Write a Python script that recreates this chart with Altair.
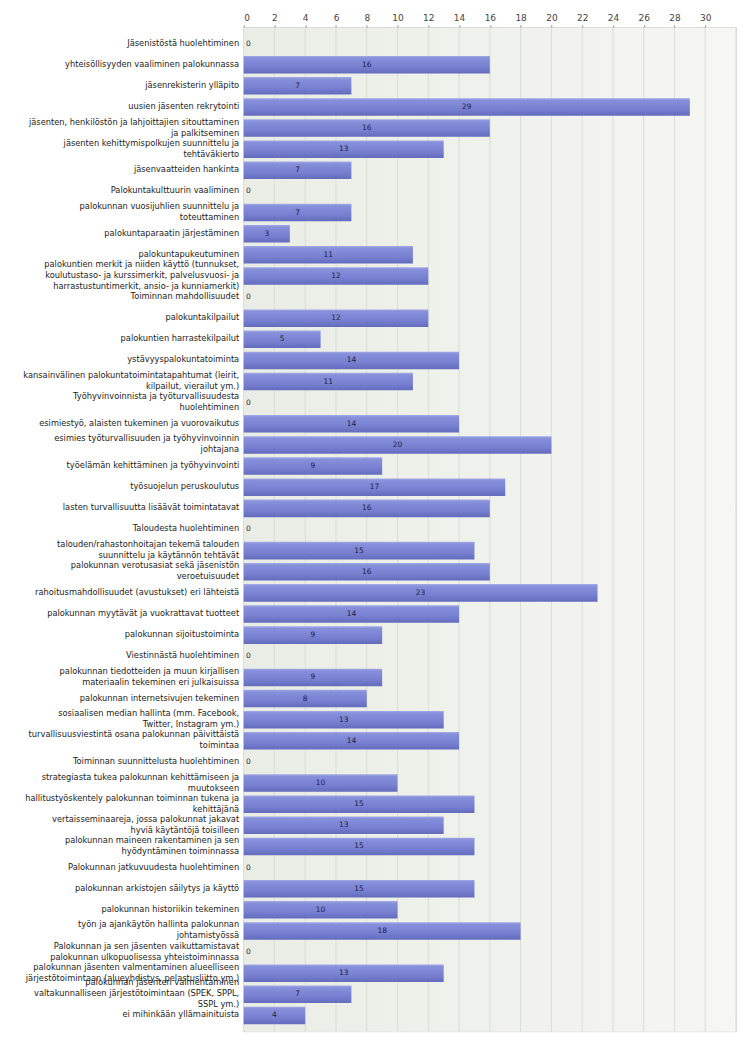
import altair as alt
import pandas as pd

categories = [
    "Jäsenistöstä huolehtiminen",
    "yhteisöllisyyden vaaliminen palokunnassa",
    "jäsenrekisterin ylläpito",
    "uusien jäsenten rekrytointi",
    "jäsenten, henkilöstön ja lahjoittajien sitouttaminen|ja palkitseminen",
    "jäsenten kehittymispolkujen suunnittelu ja|tehtäväkierto",
    "jäsenvaatteiden hankinta",
    "Palokuntakulttuurin vaaliminen",
    "palokunnan vuosijuhlien suunnittelu ja|toteuttaminen",
    "palokuntaparaatin järjestäminen",
    "palokuntapukeutuminen",
    "palokuntien merkit ja niiden käyttö (tunnukset,|koulutustaso- ja kurssimerkit, palvelusvuosi- ja|harrastustuntimerkit, ansio- ja kunniamerkit)",
    "Toiminnan mahdollisuudet",
    "palokuntakilpailut",
    "palokuntien harrastekilpailut",
    "ystävyyspalokuntatoiminta",
    "kansainvälinen palokuntatoimintatapahtumat (leirit,|kilpailut, vierailut ym.)",
    "Työhyvinvoinnista ja työturvallisuudesta|huolehtiminen",
    "esimiestyö, alaisten tukeminen ja vuorovaikutus",
    "esimies työturvallisuuden ja työhyvinvoinnin|johtajana",
    "työelämän kehittäminen ja työhyvinvointi",
    "työsuojelun peruskoulutus",
    "lasten turvallisuutta lisäävät toimintatavat",
    "Taloudesta huolehtiminen",
    "talouden/rahastonhoitajan tekemä talouden|suunnittelu ja käytännön tehtävät",
    "palokunnan verotusasiat sekä jäsenistön|veroetuisuudet",
    "rahoitusmahdollisuudet (avustukset) eri lähteistä",
    "palokunnan myytävät ja vuokrattavat tuotteet",
    "palokunnan sijoitustoiminta",
    "Viestinnästä huolehtiminen",
    "palokunnan tiedotteiden ja muun kirjallisen|materiaalin tekeminen eri julkaisuissa",
    "palokunnan internetsivujen tekeminen",
    "sosiaalisen median hallinta (mm. Facebook,|Twitter, Instagram ym.)",
    "turvallisuusviestintä osana palokunnan päivittäistä|toimintaa",
    "Toiminnan suunnittelusta huolehtiminen",
    "strategiasta tukea palokunnan kehittämiseen ja|muutokseen",
    "hallitustyöskentely palokunnan toiminnan tukena ja|kehittäjänä",
    "vertaisseminaareja, jossa palokunnat jakavat|hyviä käytäntöjä toisilleen",
    "palokunnan maineen rakentaminen ja sen|hyödyntäminen toiminnassa",
    "Palokunnan jatkuvuudesta huolehtiminen",
    "palokunnan arkistojen säilytys ja käyttö",
    "palokunnan historiikin tekeminen",
    "työn ja ajankäytön hallinta palokunnan|johtamistyössä",
    "Palokunnan ja sen jäsenten vaikuttamistavat|palokunnan ulkopuolisessa yhteistoiminnassa",
    "palokunnan jäsenten valmentaminen alueelliseen|järjestötoimintaan (alueyhdistys, pelastusliitto ym.)",
    "palokunnan jäsenten valmentaminen|valtakunnalliseen järjestötoimintaan (SPEK, SPPL,|SSPL ym.)",
    "ei mihinkään yllämainituista",
]

values = [0, 16, 7, 29, 16, 13, 7, 0, 7, 3, 11, 12, 0, 12, 5, 14, 11, 0, 14, 20,
          9, 17, 16, 0, 15, 16, 23, 14, 9, 0, 9, 8, 13, 14, 0, 10, 15, 13, 15, 0,
          15, 10, 18, 0, 13, 7, 4]

tick_values = list(range(0, 31, 2))
grid_values = list(range(2, 33, 2))

df = pd.DataFrame({"cat": categories, "v": values})
grid_df = pd.DataFrame({"g": grid_values})
bg_df = pd.DataFrame({"a": [0]})

W, H = 493, 1005
x_scale = alt.Scale(domain=[0, 32], nice=False, zero=True)
y_scale = alt.Scale(domain=categories, paddingInner=0.17, paddingOuter=0.335)

x_axis = alt.Axis(orient="top", values=tick_values, title=None, grid=False,
                  labelFontSize=9, labelColor="#444", labelFont="DejaVu Sans",
                  domainColor="#999", tickColor="#999", tickSize=3, labelPadding=2)

y_axis = alt.Axis(title=None, ticks=False, domainColor="#999",
                  labelExpr="split(datum.label, '|')", labelLimit=0,
                  labelFontSize=8.3, labelFont="DejaVu Sans", labelColor="#222",
                  labelLineHeight=11, labelPadding=5, labelBaseline="middle",
                  labelOffset=alt.ExprRef("-(length(split(datum.label, '|')) - 1) * 5.5"))

bg = alt.Chart(bg_df).mark_rect(
    color=alt.LinearGradient(
        gradient="linear",
        stops=[alt.GradientStop(color="#eaede5", offset=0),
               alt.GradientStop(color="#f6f6f3", offset=1)],
        x1=0, x2=1, y1=0, y2=0,
    )
).encode(x=alt.value(0), x2=alt.value(W), y=alt.value(0), y2=alt.value(H))

grid = alt.Chart(grid_df).mark_rule(color="#dadcd5", strokeWidth=1).encode(
    x=alt.X("g:Q", scale=x_scale, axis=x_axis)
)

bars = alt.Chart(df).mark_bar(
    color=alt.LinearGradient(
        gradient="linear",
        stops=[alt.GradientStop(color="#a3aae6", offset=0),
               alt.GradientStop(color="#8790da", offset=0.12),
               alt.GradientStop(color="#7881d2", offset=0.6),
               alt.GradientStop(color="#636bbd", offset=1)],
        x1=0, x2=0, y1=0, y2=1,
    )
).encode(
    x=alt.X("v:Q", scale=x_scale, axis=x_axis),
    y=alt.Y("cat:N", scale=y_scale, sort=None, axis=y_axis),
)

labels = alt.Chart(df).transform_calculate(
    pos="datum.v > 0 ? datum.v / 2 : 0.3"
).mark_text(fontSize=7.5, font="DejaVu Sans", color="#1e1e3c", align="center", baseline="middle").encode(
    x=alt.X("pos:Q", scale=x_scale, axis=x_axis),
    y=alt.Y("cat:N", scale=y_scale, sort=None, axis=y_axis),
    text="v:Q",
)

chart = alt.layer(bg, grid, bars, labels).properties(
    width=W, height=H, padding={"left": 14, "top": 5, "right": 5, "bottom": 5}
).configure_view(stroke="#b0b0b0", strokeWidth=1).configure(background="white")

chart.save("out.html", embed_options={"renderer": "svg", "actions": False})
